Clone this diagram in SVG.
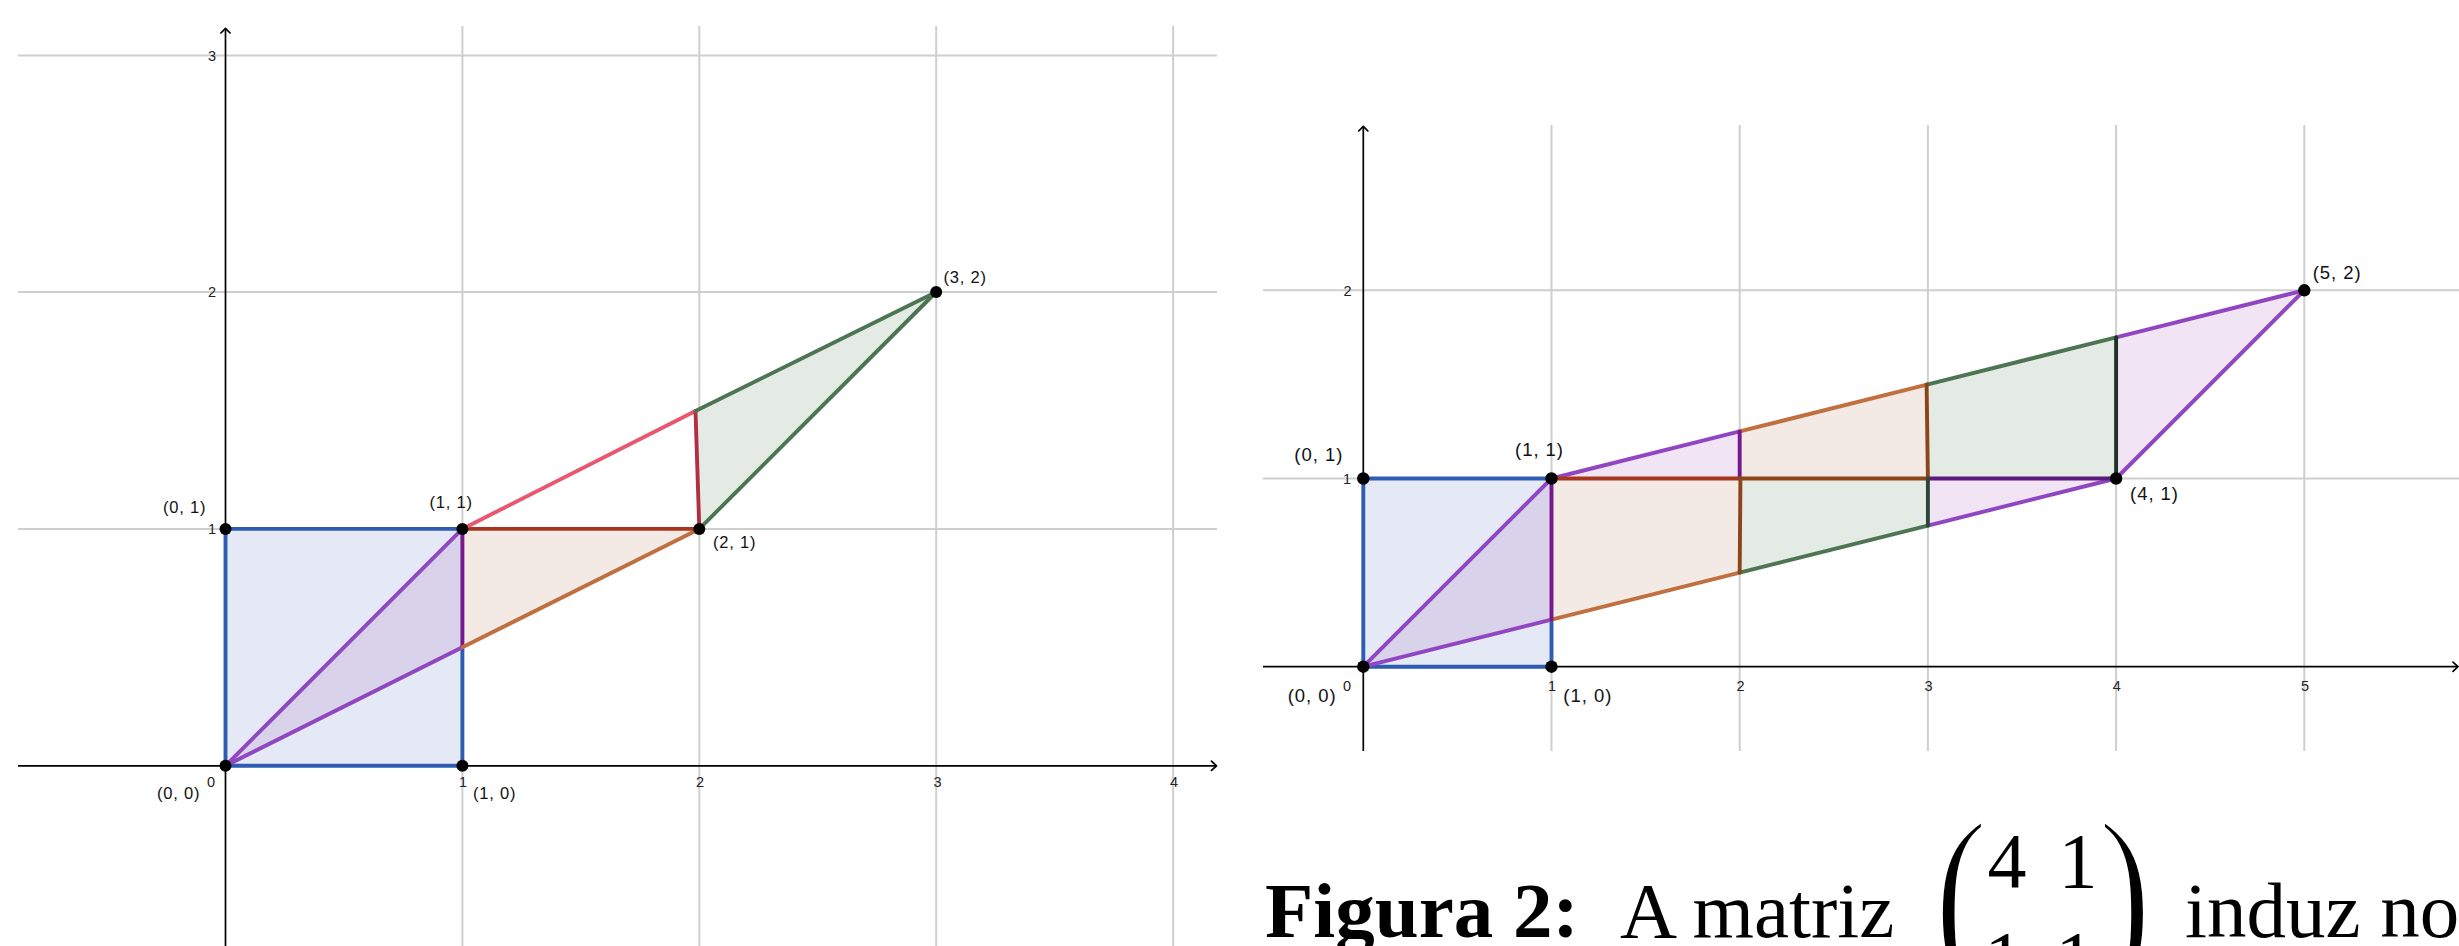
<svg xmlns="http://www.w3.org/2000/svg" width="2459" height="946" viewBox="0 0 2459 946">
<style>
.grid{stroke:#cfcfcf;stroke-width:2;fill:none}
.axis{stroke:#000;stroke-width:1.7;fill:none}
.arr{stroke:#000;stroke-width:1.7;fill:none;stroke-linecap:round;stroke-linejoin:round}
.tick{font-family:"Liberation Sans",Arial,sans-serif;font-size:14.5px;fill:#222}
.lblL{font-family:"Liberation Sans",Arial,sans-serif;font-size:16.5px;fill:#111}
.lblR{font-family:"Liberation Sans",Arial,sans-serif;font-size:18.5px;fill:#111}
.pt{fill:#000}
.e{fill:none;stroke-width:3.9;stroke-linecap:round;stroke-linejoin:round}
.blue{stroke:#2f5cb3}
.purple{stroke:#9046c2}
.dpurple{stroke:#76198a}
.dpurple2{stroke:#5c1a7e}
.orange{stroke:#c0703f}
.dred{stroke:#a8361f}
.pink{stroke:#e8566f}
.crimson{stroke:#b32e40}
.green{stroke:#4d7553}
.brown{stroke:#8b4519}
.dgreen{stroke:#2b4636}
.dgreen2{stroke:#1f3228}
.fBlue{fill:#e5e9f5}
.fPurBlue{fill:#d8d2ea}
.fPur{fill:#f0e4f5}
.fOr{fill:#f4eae5}
.fGr{fill:#e4eae4}
.cap{font-family:"Liberation Serif","Times New Roman",serif;font-size:79px;fill:#000}
.paren{font-family:"Liberation Serif","Times New Roman",serif;font-size:207px;fill:#000;stroke:#fff;stroke-width:4.5}
</style>

<!-- LEFT PLOT -->
<g id="left-grid">
  <line class="grid" x1="18" y1="528.9" x2="1217" y2="528.9"/>
  <line class="grid" x1="18" y1="292" x2="1217" y2="292"/>
  <line class="grid" x1="18" y1="55.5" x2="1217" y2="55.5"/>
  <line class="grid" x1="462.4" y1="26" x2="462.4" y2="946"/>
  <line class="grid" x1="699.3" y1="26" x2="699.3" y2="946"/>
  <line class="grid" x1="936.2" y1="26" x2="936.2" y2="946"/>
  <line class="grid" x1="1173.1" y1="26" x2="1173.1" y2="946"/>
</g>
<g id="left-axes">
  <line class="axis" x1="18" y1="765.8" x2="1216" y2="765.8"/>
  <polyline class="arr" points="1211.5,761.2 1216.5,765.8 1211.5,770.4"/>
  <line class="axis" x1="225.5" y1="29" x2="225.5" y2="946"/>
  <polyline class="arr" points="220.9,33 225.5,28.3 230.1,33"/>
  <text class="tick" x="211" y="787" text-anchor="middle">0</text>
  <text class="tick" x="463" y="787" text-anchor="middle">1</text>
  <text class="tick" x="700" y="787" text-anchor="middle">2</text>
  <text class="tick" x="937.5" y="787" text-anchor="middle">3</text>
  <text class="tick" x="1174" y="787" text-anchor="middle">4</text>
  <text class="tick" x="216" y="534.2" text-anchor="end">1</text>
  <text class="tick" x="216" y="297.3" text-anchor="end">2</text>
  <text class="tick" x="216" y="60.8" text-anchor="end">3</text>
</g>

<g id="left-square">
  <rect class="fBlue" x="225.5" y="528.9" width="236.9" height="236.9"/>
  <path class="e blue" d="M225.5,765.8 H462.4 V528.9 H225.5 Z"/>
</g>
<g id="left-purple-triangle">
  <polygon class="fPurBlue" points="225.5,765.8 462.4,528.9 462.4,647.35"/>
</g>
<g id="left-orange-triangle">
  <polygon class="fOr" points="462.4,647.35 462.4,528.9 699.3,528.9"/>
</g>
<g id="left-green-triangle">
  <polygon class="fGr" points="695.5,411 936.2,292 699.3,528.9"/>
</g>
<g id="left-connectors">
  <line class="e purple" x1="225.5" y1="765.8" x2="462.4" y2="528.9"/>
  <line class="e purple" x1="225.5" y1="765.8" x2="462.4" y2="647.35"/>
  <line class="e dpurple" x1="462.4" y1="647.35" x2="462.4" y2="528.9"/>
  <line class="e orange" x1="462.4" y1="647.35" x2="699.3" y2="528.9"/>
  <line class="e dred" x1="462.4" y1="528.9" x2="699.3" y2="528.9"/>
  <line class="e pink" x1="462.4" y1="528.9" x2="695.5" y2="411"/>
  <line class="e crimson" x1="695.5" y1="411" x2="699.3" y2="528.9"/>
  <line class="e green" x1="695.5" y1="411" x2="936.2" y2="292"/>
  <line class="e green" x1="936.2" y1="292" x2="699.3" y2="528.9"/>
</g>
<g id="left-points">
  <circle class="pt" cx="225.5" cy="765.8" r="6"/>
  <circle class="pt" cx="462.4" cy="765.8" r="6"/>
  <circle class="pt" cx="225.5" cy="528.9" r="6"/>
  <circle class="pt" cx="462.4" cy="528.9" r="6"/>
  <circle class="pt" cx="699.3" cy="528.9" r="6"/>
  <circle class="pt" cx="936.2" cy="292" r="6"/>
  <text class="lblL" x="163" y="512.5" textLength="42.5" lengthAdjust="spacing">(0, 1)</text>
  <text class="lblL" x="429.5" y="508" textLength="42.5" lengthAdjust="spacing">(1, 1)</text>
  <text class="lblL" x="157" y="799" textLength="42.5" lengthAdjust="spacing">(0, 0)</text>
  <text class="lblL" x="473" y="799" textLength="42.5" lengthAdjust="spacing">(1, 0)</text>
  <text class="lblL" x="713" y="548" textLength="42.5" lengthAdjust="spacing">(2, 1)</text>
  <text class="lblL" x="943.5" y="283" textLength="42.5" lengthAdjust="spacing">(3, 2)</text>
</g>

<!-- RIGHT PLOT -->
<g id="right-grid">
  <line class="grid" x1="1263" y1="478.5" x2="2459" y2="478.5"/>
  <line class="grid" x1="1263" y1="290.3" x2="2459" y2="290.3"/>
  <line class="grid" x1="1551.5" y1="125" x2="1551.5" y2="751"/>
  <line class="grid" x1="1739.7" y1="125" x2="1739.7" y2="751"/>
  <line class="grid" x1="1927.9" y1="125" x2="1927.9" y2="751"/>
  <line class="grid" x1="2116.1" y1="125" x2="2116.1" y2="751"/>
  <line class="grid" x1="2304.3" y1="125" x2="2304.3" y2="751"/>
</g>
<g id="right-axes">
  <line class="axis" x1="1263" y1="666.7" x2="2458" y2="666.7"/>
  <polyline class="arr" points="2453,662.1 2458,666.7 2453,671.3"/>
  <line class="axis" x1="1363.3" y1="127" x2="1363.3" y2="751"/>
  <polyline class="arr" points="1358.7,131 1363.3,126.3 1367.9,131"/>
  <text class="tick" x="1347" y="690.5" text-anchor="middle">0</text>
  <text class="tick" x="1552" y="690.5" text-anchor="middle">1</text>
  <text class="tick" x="1740.5" y="690.5" text-anchor="middle">2</text>
  <text class="tick" x="1928.5" y="690.5" text-anchor="middle">3</text>
  <text class="tick" x="2116.7" y="690.5" text-anchor="middle">4</text>
  <text class="tick" x="2305" y="690.5" text-anchor="middle">5</text>
  <text class="tick" x="1351" y="483.8" text-anchor="end">1</text>
  <text class="tick" x="1351.5" y="295.6" text-anchor="end">2</text>
</g>

<g id="right-square">
  <rect class="fBlue" x="1363.3" y="478.5" width="188.2" height="188.2"/>
  <path class="e blue" d="M1363.3,666.7 H1551.5 V478.5 H1363.3 Z"/>
</g>
<g id="right-regions">
  <polygon class="fPurBlue" points="1363.3,666.7 1551.5,478.5 1551.5,619.65"/>
  <polygon class="fOr" points="1551.5,619.65 1551.5,478.5 1739.7,478.5 1739.7,572.6"/>
  <polygon class="fGr" points="1739.7,572.6 1739.7,478.5 1927.9,478.5 1927.9,525.55"/>
  <polygon class="fPur" points="1927.9,525.55 1927.9,478.5 2116.1,478.5"/>
  <polygon class="fPur" points="1551.5,478.5 1739.7,431.45 1739.7,478.5"/>
  <polygon class="fOr" points="1739.7,478.5 1739.7,431.45 1927.9,384.4 1927.9,478.5"/>
  <polygon class="fGr" points="1927.9,478.5 1927.9,384.4 2116.1,337.35 2116.1,478.5"/>
  <polygon class="fPur" points="2116.1,478.5 2116.1,337.35 2304.3,290.3"/>
</g>
<g id="right-connectors">
  <line class="e purple" x1="1363.3" y1="666.7" x2="1551.5" y2="478.5"/>
  <line class="e purple" x1="1363.3" y1="666.7" x2="1551.5" y2="619.65"/>
  <line class="e purple" x1="1551.5" y1="478.5" x2="1739.7" y2="431.45"/>
  <line class="e purple" x1="1927.9" y1="525.55" x2="2116.1" y2="478.5"/>
  <line class="e purple" x1="2116.1" y1="337.35" x2="2304.3" y2="290.3"/>
  <line class="e purple" x1="2116.1" y1="478.5" x2="2304.3" y2="290.3"/>
  <line class="e orange" x1="1551.5" y1="619.65" x2="1739.7" y2="572.6"/>
  <line class="e orange" x1="1739.7" y1="431.45" x2="1927.9" y2="384.4"/>
  <line class="e green" x1="1739.7" y1="572.6" x2="1927.9" y2="525.55"/>
  <line class="e green" x1="1927.9" y1="384.4" x2="2116.1" y2="337.35"/>
  <line class="e dpurple" x1="1551.5" y1="619.65" x2="1551.5" y2="478.5"/>
  <line class="e dpurple" x1="1739.7" y1="478.5" x2="1739.7" y2="431.45"/>
  <line class="e dpurple2" x1="1927.9" y1="478.5" x2="2116.1" y2="478.5"/>
  <line class="e dred" x1="1551.5" y1="478.5" x2="1739.7" y2="478.5"/>
  <line class="e brown" x1="1739.7" y1="478.5" x2="1927.9" y2="478.5"/>
  <line class="e brown" x1="1739.7" y1="572.6" x2="1740.4" y2="478.5"/>
  <line class="e brown" x1="1927.9" y1="478.5" x2="1926.6" y2="384.4"/>
  <line class="e dgreen" x1="1927.9" y1="525.55" x2="1927.9" y2="478.5"/>
  <line class="e dgreen2" x1="2116.1" y1="478.5" x2="2116.1" y2="337.35"/>
</g>
<g id="right-points">
  <circle class="pt" cx="1363.3" cy="666.7" r="6.2"/>
  <circle class="pt" cx="1551.5" cy="666.7" r="6.2"/>
  <circle class="pt" cx="1363.3" cy="478.5" r="6.2"/>
  <circle class="pt" cx="1551.5" cy="478.5" r="6.2"/>
  <circle class="pt" cx="2116.1" cy="478.5" r="6.2"/>
  <circle class="pt" cx="2304.3" cy="290.3" r="6.2"/>
  <text class="lblR" x="1294.3" y="461" textLength="48" lengthAdjust="spacing">(0, 1)</text>
  <text class="lblR" x="1515" y="456" textLength="48" lengthAdjust="spacing">(1, 1)</text>
  <text class="lblR" x="1287.7" y="702" textLength="48" lengthAdjust="spacing">(0, 0)</text>
  <text class="lblR" x="1563.3" y="702" textLength="48" lengthAdjust="spacing">(1, 0)</text>
  <text class="lblR" x="2130" y="500" textLength="48" lengthAdjust="spacing">(4, 1)</text>
  <text class="lblR" x="2312.7" y="279" textLength="48" lengthAdjust="spacing">(5, 2)</text>
</g>

<!-- CAPTION -->
<g id="caption">
  <text class="cap" x="1265" y="937" font-weight="bold">Figura 2:</text>
  <text class="cap" x="1620" y="937">A matriz</text>
  <text class="paren" transform="translate(1934,964) scale(0.78,1)" x="0" y="0">(</text>
  <text class="cap" x="2007" y="887" text-anchor="middle" style="font-size:78px">4</text>
  <text class="cap" x="2078" y="887" text-anchor="middle" style="font-size:78px">1</text>
  <text class="cap" x="2004" y="985" text-anchor="middle" style="font-size:78px">1</text>
  <text class="cap" x="2075" y="985" text-anchor="middle" style="font-size:78px">1</text>
  <text class="paren" transform="translate(2098,964) scale(0.78,1)" x="0" y="0">)</text>
  <text class="cap" x="2185" y="937">induz no</text>
</g>
</svg>
